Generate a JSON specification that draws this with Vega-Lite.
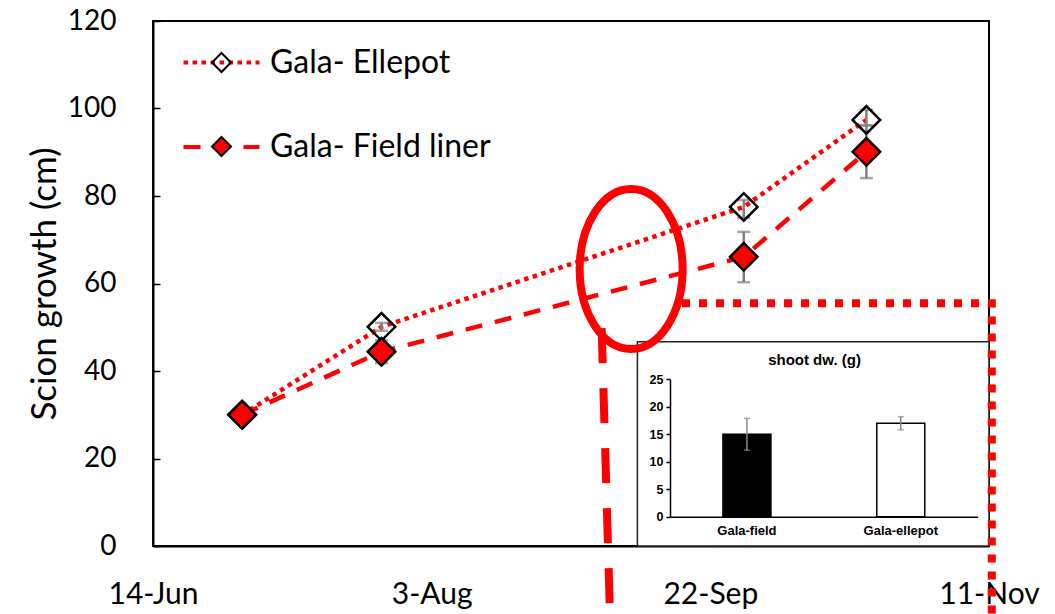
{
  "$schema": "https://vega.github.io/schema/vega-lite/v6.json",
  "width": 836,
  "height": 525,
  "autosize": {"type": "none"},
  "padding": {"left": 153, "top": 21, "right": 66, "bottom": 68},
  "background": "white",
  "config": {"view": {"stroke": "black", "strokeWidth": 2}, "font": "Lato"},
  "datasets": {
    "growth": [
      {"date": "2017-06-30", "series": "Gala- Ellepot", "growth": 30, "lo": 29.5, "hi": 30.5},
      {"date": "2017-07-25", "series": "Gala- Ellepot", "growth": 50.1, "lo": 49.2, "hi": 51},
      {"date": "2017-09-28", "series": "Gala- Ellepot", "growth": 77.5, "lo": 75.0, "hi": 79.1},
      {"date": "2017-10-20", "series": "Gala- Ellepot", "growth": 97.4, "lo": 96.2, "hi": 99.7},
      {"date": "2017-06-30", "series": "Gala- Field liner", "growth": 30, "lo": 29, "hi": 31},
      {"date": "2017-07-25", "series": "Gala- Field liner", "growth": 44.4, "lo": 41.8, "hi": 47},
      {"date": "2017-09-28", "series": "Gala- Field liner", "growth": 66.1, "lo": 60.3, "hi": 71.8},
      {"date": "2017-10-20", "series": "Gala- Field liner", "growth": 90.1, "lo": 84.1, "hi": 96.1}
    ],
    "shoot": [
      {"variety": "Gala-field", "dw": 15, "lo": 12.1, "hi": 17.9},
      {"variety": "Gala-ellepot", "dw": 17, "lo": 15.8, "hi": 18.2}
    ],
    "insetBox": [
      {"start": "2017-09-08T22:00:00Z", "end": "2017-11-11T00:00:00Z", "low": 0, "high": 46.7}
    ],
    "ellipse": [
      {"date": "2017-09-07T19:00:00Z", "value": 63.3}
    ],
    "dashLine": [
      {"date": "2017-09-02T12:00:00Z", "value": 49.8, "k": 1},
      {"date": "2017-09-04T00:00:00Z", "value": -16, "k": 2}
    ],
    "dotLine": [
      {"date": "2017-09-16T22:00:00Z", "value": 55.5, "k": 1},
      {"date": "2017-11-11T12:00:00Z", "value": 55.5, "k": 2},
      {"date": "2017-11-11T12:00:00Z", "value": -16, "k": 3}
    ]
  },
  "layer": [
    {
      "layer": [
        {
          "data": {"name": "growth"},
          "mark": {"type": "line", "strokeWidth": 4.5, "strokeCap": "butt", "color": "red"},
          "encoding": {
            "x": {
              "field": "date", "type": "temporal",
              "scale": {"type": "utc", "domain": [{"year": 2017, "month": "jun", "date": 14, "utc": true}, {"year": 2017, "month": "nov", "date": 11, "utc": true}]},
              "axis": {
                "orient": "bottom", "title": null, "grid": false, "ticks": false,
                "values": [
                  {"year": 2017, "month": "jun", "date": 14, "utc": true},
                  {"year": 2017, "month": "aug", "date": 3, "utc": true},
                  {"year": 2017, "month": "sep", "date": 22, "utc": true},
                  {"year": 2017, "month": "nov", "date": 11, "utc": true}
                ],
                "format": "%-d-%b", "labelFont": "Lato", "labelFontSize": 30, "labelColor": "black",
                "labelPadding": 33, "labelFlush": false, "labelOverlap": false,
                "domainColor": "black", "domainWidth": 2
              }
            },
            "y": {
              "field": "growth", "type": "quantitative", "title": "Scion growth (cm)",
              "scale": {"domain": [0, 120], "nice": false},
              "axis": {
                "orient": "left", "grid": false,
                "values": [0, 20, 40, 60, 80, 100, 120],
                "labelFont": "Lato", "labelFontSize": 28, "labelColor": "black", "labelPadding": 44,
                "tickSize": -7, "tickColor": "black", "tickWidth": 1.5,
                "domainColor": "black", "domainWidth": 2,
                "titleFont": "Lato", "titleFontSize": 35, "titleFontWeight": "normal", "titleColor": "black",
                "titlePadding": 5
              }
            },
            "strokeDash": {
              "field": "series", "type": "nominal",
              "scale": {"range": [[4.5, 4.5], [17, 13]]},
              "legend": {
                "orient": "none", "legendX": 28.5, "legendY": 1.5, "title": null, "padding": 0,
                "symbolType": "stroke", "symbolSize": 5776, "symbolStrokeWidth": 4, "symbolStrokeColor": "red",
                "labelFont": "Lato", "labelFontSize": 32, "labelColor": "black", "labelOffset": 8.5, "labelLimit": 0,
                "rowPadding": 28.5
              }
            }
          }
        },
        {
          "data": {"name": "growth"},
          "mark": {"type": "errorbar", "ticks": {"size": 13, "thickness": 2.5, "color": "#7f7f7f"}, "rule": {"strokeWidth": 2.5, "color": "#7f7f7f"}},
          "encoding": {
            "x": {"field": "date", "type": "temporal"},
            "y": {"field": "lo", "type": "quantitative", "title": "Scion growth (cm)"},
            "y2": {"field": "hi"}
          }
        },
        {
          "data": {"name": "growth"},
          "mark": {"type": "point", "shape": "diamond", "size": 760, "filled": true, "stroke": "black", "strokeWidth": 2.5, "opacity": 1, "fillOpacity": 1},
          "encoding": {
            "x": {"field": "date", "type": "temporal"},
            "y": {"field": "growth", "type": "quantitative", "title": "Scion growth (cm)"},
            "fill": {
              "field": "series", "type": "nominal",
              "scale": {"domain": ["Gala- Ellepot", "Gala- Field liner"], "range": ["transparent", "red"]},
              "legend": {
                "orient": "none", "legendX": 58, "legendY": 31, "title": null, "padding": 0,
                "symbolType": "diamond", "symbolSize": 360, "symbolStrokeWidth": 2, "symbolStrokeColor": "black",
                "labelExpr": "''", "labelFontSize": 1, "rowPadding": 57
              }
            }
          }
        },
        {
          "data": {"name": "insetBox"},
          "mark": {"type": "rect", "fill": "white", "stroke": "#222222", "strokeWidth": 1.5},
          "encoding": {
            "x": {"field": "start", "type": "temporal"},
            "x2": {"field": "end"},
            "y": {"field": "low", "type": "quantitative", "title": "Scion growth (cm)"},
            "y2": {"field": "high"}
          }
        },
        {
          "data": {"name": "ellipse"},
          "mark": {"type": "point", "shape": "M0,-1.553A1,1.553,0,1,1,0,1.553A1,1.553,0,1,1,0,-1.553Z", "size": 10609, "filled": false, "fill": null, "stroke": "red", "strokeWidth": 8, "opacity": 1},
          "encoding": {
            "x": {"field": "date", "type": "temporal"},
            "y": {"field": "value", "type": "quantitative", "title": "Scion growth (cm)"}
          }
        },
        {
          "data": {"name": "dashLine"},
          "mark": {"type": "line", "color": "red", "strokeWidth": 8, "strokeDash": [35, 25], "strokeCap": "butt"},
          "encoding": {
            "x": {"field": "date", "type": "temporal"},
            "y": {"field": "value", "type": "quantitative", "title": "Scion growth (cm)"},
            "order": {"field": "k", "type": "quantitative"}
          }
        },
        {
          "data": {"name": "dotLine"},
          "mark": {"type": "line", "color": "red", "strokeWidth": 8, "strokeDash": [8, 9], "strokeCap": "butt"},
          "encoding": {
            "x": {"field": "date", "type": "temporal"},
            "y": {"field": "value", "type": "quantitative", "title": "Scion growth (cm)"},
            "order": {"field": "k", "type": "quantitative"}
          }
        }
      ]
    },
    {
      "data": {"name": "shoot"},
      "layer": [
        {
          "mark": {"type": "bar", "stroke": "black", "strokeWidth": 1.5},
          "encoding": {
            "x": {
              "field": "variety", "type": "nominal", "sort": ["Gala-field", "Gala-ellepot"],
              "scale": {"range": [517, 824.7], "paddingInner": 0.688, "paddingOuter": 0.344},
              "axis": {
                "orient": "bottom", "offset": -29.3, "title": null, "ticks": false, "grid": false, "zindex": 2,
                "domainColor": "black", "domainWidth": 1.5, "labelAngle": 0,
                "labelFont": "Liberation Sans", "labelFontWeight": "bold", "labelFontSize": 13, "labelColor": "black", "labelPadding": 8
              }
            },
            "y": {
              "field": "dw", "type": "quantitative", "title": "shoot dw. (g)",
              "scale": {"domain": [0, 25], "range": [495.7, 358.3], "nice": false},
              "axis": {
                "orient": "left", "offset": -517, "grid": false, "values": [0, 5, 10, 15, 20, 25], "zindex": 2,
                "tickSize": 4, "tickColor": "black", "tickWidth": 1.5,
                "domainColor": "black", "domainWidth": 1.5,
                "labelFont": "Liberation Sans", "labelFontWeight": "bold", "labelFontSize": 12.5, "labelColor": "black", "labelPadding": 3,
                "titleAngle": 0, "titleX": 144, "titleY": 338,
                "titleFont": "Liberation Sans", "titleFontSize": 15, "titleFontWeight": "bold", "titleColor": "black",
                "titleAlign": "center", "titleBaseline": "middle"
              }
            },
            "fill": {
              "field": "variety", "type": "nominal",
              "scale": {"domain": ["Gala-field", "Gala-ellepot"], "range": ["black", "white"]},
              "legend": null
            }
          }
        },
        {
          "mark": {"type": "errorbar", "ticks": {"size": 6, "thickness": 1.5, "color": "#888888"}, "rule": {"strokeWidth": 1.5, "color": "#888888"}},
          "encoding": {
            "x": {"field": "variety", "type": "nominal", "sort": ["Gala-field", "Gala-ellepot"]},
            "y": {"field": "lo", "type": "quantitative", "title": "shoot dw. (g)"},
            "y2": {"field": "hi"}
          }
        }
      ]
    }
  ],
  "resolve": {"scale": {"x": "independent", "y": "independent", "fill": "independent"}}
}
